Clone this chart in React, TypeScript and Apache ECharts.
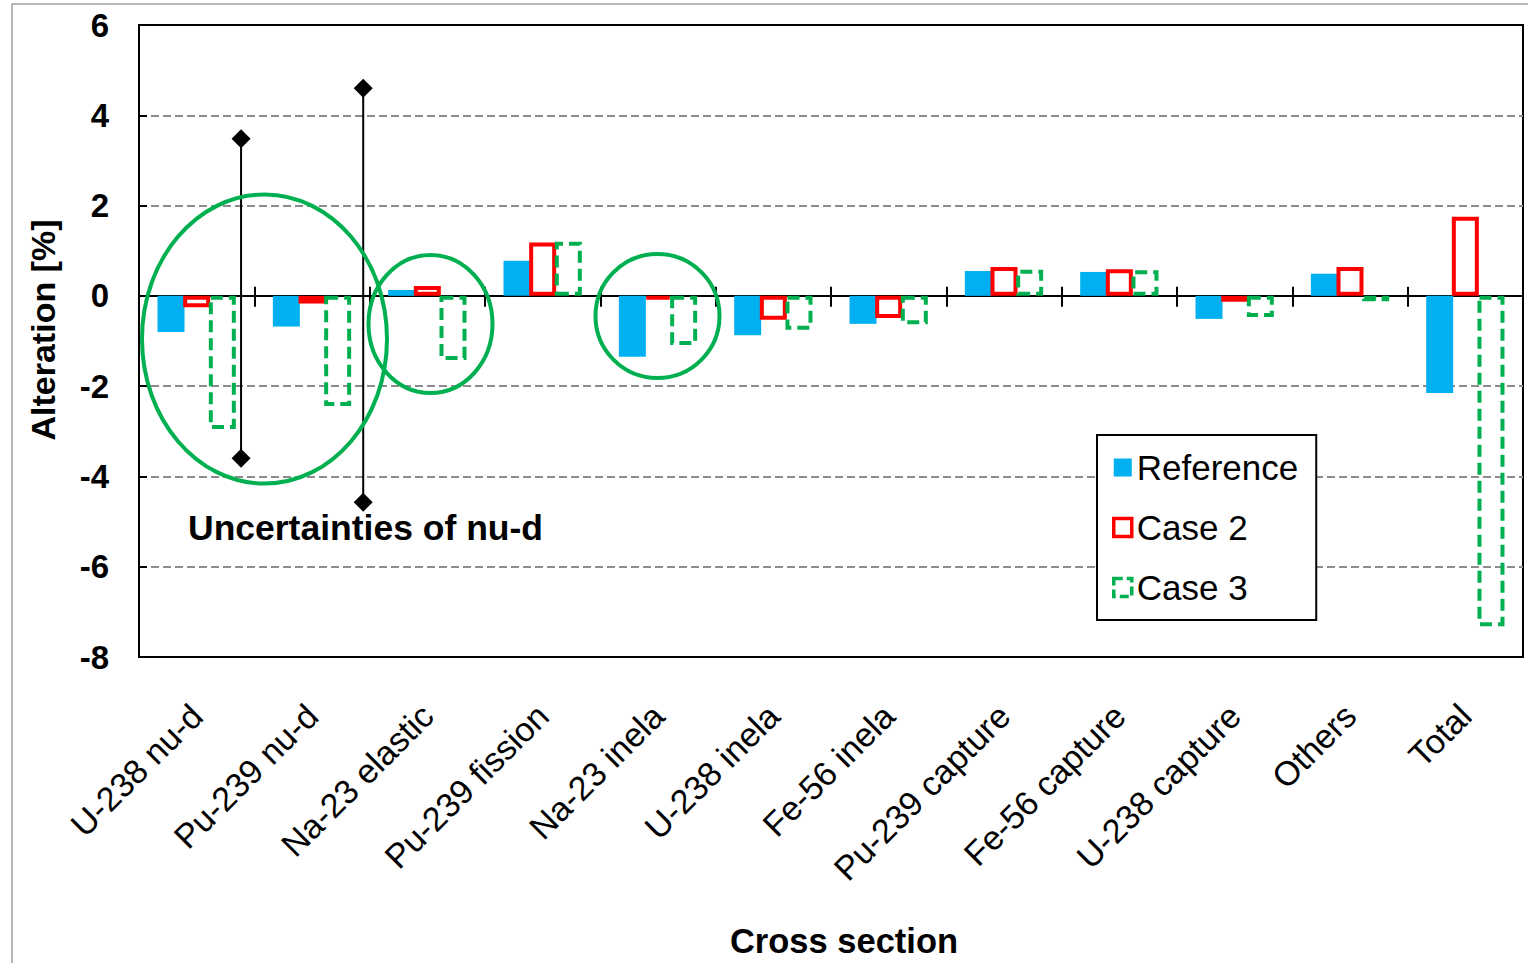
import React, { useEffect, useRef } from "react";
import * as echarts from "echarts";

const categories = [
  "U-238 nu-d",
  "Pu-239 nu-d",
  "Na-23 elastic",
  "Pu-239 fission",
  "Na-23 inela",
  "U-238 inela",
  "Fe-56 inela",
  "Pu-239 capture",
  "Fe-56 capture",
  "U-238 capture",
  "Others",
  "Total",
];
const referenceValues = [-0.8, -0.68, 0.13, 0.78, -1.35, -0.87, -0.62, 0.55, 0.53, -0.51, 0.49, -2.15];
const case2Values = [-0.25, -0.17, 0.22, 1.18, -0.08, -0.53, -0.49, 0.64, 0.59, -0.13, 0.64, 1.75];
const case3Values = [-2.95, -2.44, -1.42, 1.2, -1.09, -0.75, -0.63, 0.58, 0.57, -0.47, -0.12, -7.32];
// uncertainty of nu-d: [category index, upper, lower, position inside category (fraction of band)]
const uncertaintyBars = [
  [0, 3.48, -3.6, 0.385],
  [1, 4.6, -4.57, 0.444],
];
const yTicks = [-8, -6, -4, -2, 0, 2, 4, 6];

const FONT = "'Liberation Sans', Arial, sans-serif";

export default function App() {
  const ref = useRef<HTMLDivElement>(null);
  useEffect(() => {
    if (!ref.current) return;
    const chart = echarts.init(ref.current, null, { renderer: "svg" });
    const gray = "#8c8c8c";
    const none = "rgba(0,0,0,0)";
    const splitColors = yTicks.map((v, i) =>
      i === 0 || i === yTicks.length - 1 || v === 0 ? none : gray
    );
    const catAxisBase = {
      type: "category",
      data: categories,
      gridIndex: 0,
    };
    const option: any = {
      animation: false,
      backgroundColor: "#ffffff",
      textStyle: { fontFamily: FONT },
      grid: {
        left: 139,
        top: 25,
        right: 5,
        bottom: 306,
        show: true,
        borderColor: "#000",
        borderWidth: 2,
        backgroundColor: "rgba(0,0,0,0)",
        containLabel: false,
      },
      legend: {
        orient: "vertical",
        left: 1097,
        top: 435,
        padding: [15, 18, 15, 15],
        itemGap: 25,
        itemWidth: 18,
        itemHeight: 18,
        itemTextGap: 11,
        borderColor: "#000",
        borderWidth: 2,
        backgroundColor: "#fff",
        icon: "rect",
        textStyle: { fontSize: 35, color: "#000", fontFamily: FONT },
        data: [
          { name: "Reference", itemStyle: { borderWidth: 0 } },
          { name: "Case 2", itemStyle: { borderWidth: 3.5, borderColor: "#FF0000", color: "#fff" } },
          {
            name: "Case 3",
            itemStyle: { borderWidth: 3.5, borderColor: "#00B050", color: "#fff", borderType: [9, 4] },
          },
        ],
      },
      xAxis: [
        {
          ...catAxisBase,
          position: "bottom",
          axisLine: { show: false, onZero: false },
          axisTick: { show: false },
          axisLabel: {
            rotate: 45,
            margin: 29,
            padding: [0, 17, 0, 0],
            fontSize: 34,
            color: "#000",
            fontFamily: FONT,
            interval: 0,
            verticalAlign: "top",
            align: "right",
          },
          splitLine: { show: false },
        },
        {
          ...catAxisBase,
          position: "bottom",
          axisLine: { show: true, onZero: true, onZeroAxisIndex: 0, lineStyle: { color: "#000", width: 2 } },
          axisTick: { show: true, inside: false, length: 11, lineStyle: { color: "#000", width: 2 } },
          axisLabel: { show: false },
          splitLine: { show: false },
        },
        {
          ...catAxisBase,
          position: "bottom",
          axisLine: { show: true, onZero: true, onZeroAxisIndex: 0, lineStyle: { color: "#000", width: 2 } },
          axisTick: { show: true, inside: true, length: 9, lineStyle: { color: "#000", width: 2 } },
          axisLabel: { show: false },
          splitLine: { show: false },
        },
      ],
      yAxis: {
        type: "value",
        min: -8,
        max: 6,
        interval: 2,
        axisLine: { show: true, lineStyle: { color: "#000", width: 2 } },
        axisTick: { show: true, inside: true, length: 8, lineStyle: { color: "#000", width: 2 } },
        axisLabel: {
          fontSize: 33,
          fontWeight: "bold",
          color: "#000",
          margin: 30,
          fontFamily: FONT,
        },
        splitLine: {
          show: true,
          lineStyle: { color: splitColors, type: [8, 4], width: 2 },
        },
      },
      series: [
        {
          name: "Reference",
          type: "bar",
          xAxisIndex: 0,
          data: referenceValues,
          barWidth: 27,
          barGap: "-5%",
          itemStyle: { color: "#00B0F0" },
          z: 2,
        },
        {
          name: "Case 2",
          type: "bar",
          xAxisIndex: 0,
          data: case2Values,
          barWidth: 27,
          barGap: "-5%",
          itemStyle: { color: "#ffffff", borderColor: "#FF0000", borderWidth: 4 },
          z: 3,
        },
        {
          name: "Case 3",
          type: "bar",
          xAxisIndex: 0,
          data: case3Values,
          barWidth: 27,
          barGap: "-5%",
          itemStyle: {
            color: "rgba(255,255,255,0)",
            borderColor: "#00B050",
            borderWidth: 4,
            borderType: [12, 6],
          },
          z: 4,
        },
        {
          name: "Uncertainty",
          type: "custom",
          xAxisIndex: 0,
          data: uncertaintyBars,
          z: 10,
          renderItem: (params: any, api: any) => {
            const ci = api.value(0);
            const hi = api.value(1);
            const lo = api.value(2);
            const off = api.value(3);
            const band = api.size([1, 0])[0];
            const pHi = api.coord([ci, hi]);
            const pLo = api.coord([ci, lo]);
            const x = pHi[0] + off * band;
            const s = 9.5;
            const diamond = (y: number) => ({
              type: "polygon",
              shape: { points: [[x, y - s], [x + s, y], [x, y + s], [x - s, y]] },
              style: { fill: "#000" },
            });
            return {
              type: "group",
              children: [
                {
                  type: "line",
                  shape: { x1: x, y1: pHi[1], x2: x, y2: pLo[1] },
                  style: { stroke: "#000", lineWidth: 2 },
                },
                diamond(pHi[1]),
                diamond(pLo[1]),
              ],
            };
          },
        },
      ],
      graphic: [
        {
          type: "rect",
          shape: { x: 12, y: 4, width: 1600, height: 1100 },
          style: { fill: "none", stroke: "#a0a0a0", lineWidth: 1.5 },
          silent: true,
          z: -10,
        },
        {
          type: "ellipse",
          shape: { cx: 264.5, cy: 339, rx: 122.5, ry: 144.5 },
          style: { fill: "none", stroke: "#00B050", lineWidth: 4 },
          z: 20,
        },
        {
          type: "ellipse",
          shape: { cx: 430.5, cy: 324, rx: 62, ry: 69 },
          style: { fill: "none", stroke: "#00B050", lineWidth: 4 },
          z: 20,
        },
        {
          type: "ellipse",
          shape: { cx: 657.5, cy: 316, rx: 62, ry: 62 },
          style: { fill: "none", stroke: "#00B050", lineWidth: 4 },
          z: 20,
        },
        {
          type: "text",
          x: 188,
          y: 528,
          style: {
            text: "Uncertainties of nu-d",
            font: `bold 35.5px ${FONT}`,
            fill: "#000",
            textAlign: "left",
            textVerticalAlign: "middle",
          },
          z: 20,
        },
        {
          type: "text",
          x: 43,
          y: 330,
          rotation: Math.PI / 2,
          style: {
            text: "Alteration [%]",
            font: `bold 34px ${FONT}`,
            fill: "#000",
            textAlign: "center",
            textVerticalAlign: "middle",
          },
          z: 20,
        },
        {
          type: "text",
          x: 844,
          y: 941,
          style: {
            text: "Cross section",
            font: `bold 34.5px ${FONT}`,
            fill: "#000",
            textAlign: "center",
            textVerticalAlign: "middle",
          },
          z: 20,
        },
      ],
    };
    chart.setOption(option);
    return () => chart.dispose();
  }, []);
  return (
    <div
      ref={ref}
      style={{ position: "absolute", left: 0, top: 0, width: 1528, height: 963 }}
    />
  );
}
